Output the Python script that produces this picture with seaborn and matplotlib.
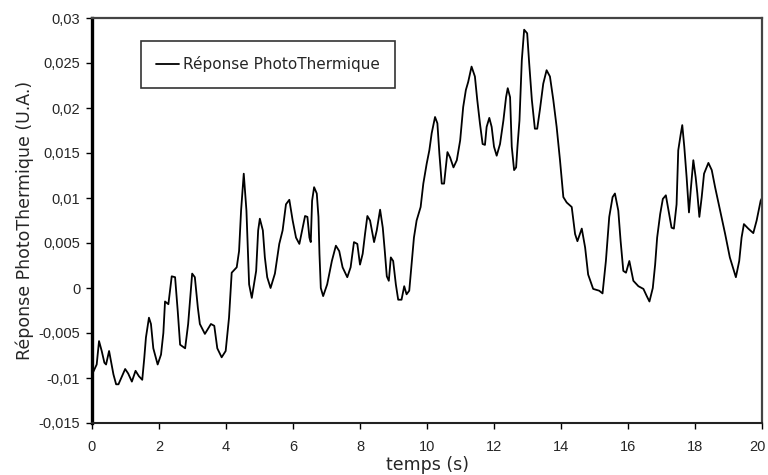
import numpy as np
import pandas as pd
import matplotlib
matplotlib.use("Agg")
import matplotlib.pyplot as plt
import matplotlib.transforms as mtransforms
import seaborn as sns

# ---- data ----
temps = [0.00, 0.04, 0.14, 0.21, 0.29, 0.37, 0.42, 0.51, 0.57, 0.64, 0.72, 0.79,
         0.99, 1.08, 1.19, 1.30, 1.40, 1.50, 1.56, 1.61, 1.70, 1.76, 1.83, 1.96,
         2.06, 2.13, 2.18, 2.28, 2.38, 2.48, 2.56, 2.63, 2.78, 2.87, 2.99, 3.07,
         3.16, 3.22, 3.37, 3.55, 3.65, 3.74, 3.87, 3.99, 4.09, 4.17, 4.32, 4.39,
         4.45, 4.53, 4.61, 4.69, 4.77, 4.87, 4.90, 4.96, 5.01, 5.10, 5.16, 5.23,
         5.33, 5.46, 5.59, 5.69, 5.79, 5.89, 5.99, 6.09, 6.19, 6.29, 6.36, 6.43,
         6.49, 6.53, 6.57, 6.63, 6.71, 6.76, 6.79, 6.83, 6.90, 7.02, 7.16, 7.28,
         7.38, 7.48, 7.62, 7.72, 7.82, 7.92, 8.00, 8.08, 8.15, 8.22, 8.30, 8.42,
         8.50, 8.60, 8.68, 8.74, 8.80, 8.86, 8.92, 8.99, 9.07, 9.14, 9.24, 9.32,
         9.39, 9.47, 9.54, 9.61, 9.69, 9.81, 9.89, 9.99, 10.07, 10.14, 10.24, 10.31,
         10.37, 10.44, 10.51, 10.61, 10.69, 10.79, 10.89, 10.99, 11.08, 11.16, 11.23, 11.33,
         11.43, 11.50, 11.58, 11.66, 11.73, 11.78, 11.86, 11.93, 12.00, 12.08, 12.18, 12.28,
         12.36, 12.41, 12.48, 12.53, 12.60, 12.66, 12.70, 12.76, 12.83, 12.90, 12.99, 13.05,
         13.13, 13.22, 13.29, 13.37, 13.47, 13.57, 13.67, 13.77, 13.87, 13.97, 14.07, 14.17,
         14.32, 14.42, 14.49, 14.62, 14.72, 14.81, 14.96, 15.14, 15.24, 15.34, 15.44, 15.54,
         15.61, 15.71, 15.78, 15.86, 15.94, 16.04, 16.16, 16.31, 16.46, 16.56, 16.64, 16.74,
         16.81, 16.87, 16.96, 17.04, 17.13, 17.21, 17.30, 17.37, 17.45, 17.50, 17.57, 17.62,
         17.68, 17.75, 17.82, 17.88, 17.95, 18.02, 18.07, 18.13, 18.20, 18.27, 18.40, 18.50,
         18.60, 18.75, 18.90, 19.04, 19.22, 19.32, 19.39, 19.46, 19.59, 19.74, 19.84, 19.96,
         20.00]

reponse = [-0.0078, -0.0093, -0.0085, -0.0059, -0.0070, -0.0083, -0.0085, -0.0070, -0.0082, -0.0096, -0.0107, -0.0107,
           -0.0090, -0.0095, -0.0104, -0.0092, -0.0098, -0.0102, -0.0078, -0.0055, -0.0033, -0.0040, -0.0067, -0.0085,
           -0.0074, -0.0050, -0.0015, -0.0018, 0.0013, 0.0012, -0.0026, -0.0063, -0.0067, -0.0040, 0.0016, 0.0012,
           -0.0022, -0.0040, -0.0051, -0.0040, -0.0042, -0.0067, -0.0077, -0.0070, -0.0033, 0.0017, 0.0023, 0.0041,
           0.0086, 0.0127, 0.0086, 0.0004, -0.0011, 0.0012, 0.0019, 0.0064, 0.0077, 0.0064, 0.0034, 0.0012,
           0.0000, 0.0016, 0.0049, 0.0064, 0.0093, 0.0098, 0.0075, 0.0056, 0.0049, 0.0067, 0.0080, 0.0079,
           0.0056, 0.0051, 0.0097, 0.0112, 0.0105, 0.0079, 0.0038, 0.0000, -0.0009, 0.0004, 0.0030, 0.0047,
           0.0041, 0.0023, 0.0012, 0.0023, 0.0051, 0.0049, 0.0026, 0.0038, 0.0060, 0.0080, 0.0075, 0.0051,
           0.0064, 0.0087, 0.0067, 0.0041, 0.0013, 0.0008, 0.0034, 0.0030, 0.0004, -0.0013, -0.0013, 0.0002,
           -0.0007, -0.0003, 0.0026, 0.0056, 0.0075, 0.0090, 0.0116, 0.0138, 0.0153, 0.0172, 0.0190, 0.0183,
           0.0149, 0.0116, 0.0116, 0.0151, 0.0145, 0.0134, 0.0142, 0.0164, 0.0201, 0.0220, 0.0229, 0.0246,
           0.0235, 0.0209, 0.0183, 0.0160, 0.0159, 0.0179, 0.0189, 0.0179, 0.0157, 0.0147, 0.0160, 0.0186,
           0.0212, 0.0222, 0.0212, 0.0157, 0.0131, 0.0134, 0.0157, 0.0186, 0.0253, 0.0287, 0.0283, 0.0250,
           0.0209, 0.0177, 0.0177, 0.0198, 0.0227, 0.0242, 0.0235, 0.0209, 0.0179, 0.0142, 0.0101, 0.0095,
           0.0090, 0.0060, 0.0052, 0.0066, 0.0045, 0.0015, -0.0001, -0.0003, -0.0006, 0.0030, 0.0079, 0.0101,
           0.0105, 0.0086, 0.0052, 0.0019, 0.0017, 0.0030, 0.0008, 0.0002, -0.0001, -0.0009, -0.0015, 0.0000,
           0.0026, 0.0056, 0.0082, 0.0099, 0.0103, 0.0086, 0.0067, 0.0066, 0.0093, 0.0153, 0.0170, 0.0181,
           0.0157, 0.0123, 0.0084, 0.0112, 0.0142, 0.0123, 0.0105, 0.0079, 0.0101, 0.0127, 0.0139, 0.0131,
           0.0112, 0.0086, 0.0060, 0.0034, 0.0012, 0.0030, 0.0056, 0.0071, 0.0066, 0.0061, 0.0075, 0.0097,
           0.0100]

yticks = [-0.015, -0.01, -0.005, 0, 0.005, 0.01, 0.015, 0.02, 0.025, 0.03]
ytick_labels = ["-0,015", "-0,01", "-0,005", "0", "0,005", "0,01", "0,015", "0,02", "0,025", "0,03"]
xticks = [0, 2, 4, 6, 8, 10, 12, 14, 16, 18, 20]
xtick_labels = [str(v) for v in xticks]
serie_label = "Réponse PhotoThermique"

df = pd.DataFrame({"temps": temps, "reponse": reponse})

sns.set_theme(style="white")
plt.rcParams["font.family"] = ["Liberation Sans", "DejaVu Sans"]

fig = plt.figure(figsize=(7.68, 4.75), dpi=100)
ax = fig.add_axes([92 / 768, 1 - 423 / 475, 670 / 768, 405 / 475])

sns.lineplot(data=df, x="temps", y="reponse", ax=ax, color="black",
             linewidth=1.3, label=serie_label)

ax.set_xlim(0, 20)
ax.set_ylim(-0.015, 0.03)
ax.set_xticks(xticks)
ax.set_xticklabels(xtick_labels, fontsize=10.5)
ax.set_yticks(yticks)
ax.set_yticklabels(ytick_labels, fontsize=10.5)
ax.tick_params(axis="both", direction="out", length=4, width=1, color="black",
               bottom=True, left=True)
ax.tick_params(axis="x", pad=8.5)
ax.tick_params(axis="y", pad=4.5)

# keep the last x tick label inside the figure
last = ax.get_xticklabels()[-1]
last.set_transform(last.get_transform() +
                   mtransforms.ScaledTranslation(-5 / 100, 0, fig.dpi_scale_trans))

ax.set_xlabel("temps (s)", fontsize=12.5, family=["DejaVu Sans"], labelpad=1)
ax.set_ylabel("Réponse PhotoThermique (U.A.)", fontsize=12.5,
              family=["DejaVu Sans"], labelpad=3)

for side, sp in ax.spines.items():
    sp.set_visible(True)
ax.spines["left"].set_color("black")
ax.spines["left"].set_linewidth(2.4)
ax.spines["bottom"].set_color("#222222")
ax.spines["bottom"].set_linewidth(1.5)
ax.spines["top"].set_color("#444444")
ax.spines["top"].set_linewidth(1.6)
ax.spines["right"].set_color("#444444")
ax.spines["right"].set_linewidth(1.6)

leg = ax.legend(loc="upper left", bbox_to_anchor=(49 / 670, (423 - 41) / 405),
                borderaxespad=0, frameon=True, fancybox=False,
                prop={"family": ["DejaVu Sans"], "size": 11},
                handlelength=1.5, handletextpad=0.25, borderpad=1.0)
leg.get_frame().set_edgecolor("black")
leg.get_frame().set_linewidth(1.2)

fig.savefig("out.png", dpi=100)
